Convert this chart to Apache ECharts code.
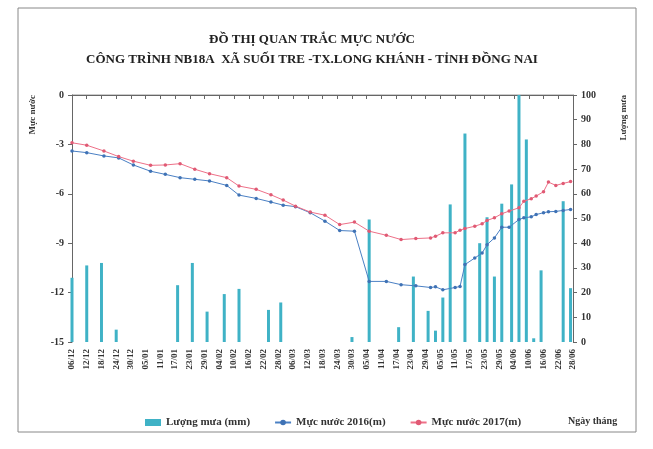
<!DOCTYPE html>
<html>
<head>
<meta charset="utf-8">
<script src="https://cdn.jsdelivr.net/npm/echarts@6/dist/echarts.min.js"></script>
<style>
html,body{margin:0;padding:0;background:#fff;}
#c{width:653px;height:449px;}
</style>
</head>
<body>
<div id="c"></div>
<script>
// X tick labels (every 6 days)
const xTickLabels = ['06/12','12/12','18/12','24/12','30/12','05/01','11/01','17/01','23/01','29/01','04/02','10/02','16/02','22/02','28/02','06/03','12/03','18/03','24/03','30/03','05/04','11/04','17/04','23/04','29/04','05/05','11/05','17/05','23/05','29/05','04/06','10/06','16/06','22/06','28/06'];

// Water level observation dates
const levelDates = ['06/12','12/12','19/12','25/12','31/12','07/01','13/01','19/01','25/01','31/01','07/02','12/02','19/02','25/02','02/03','07/03','13/03','19/03','25/03','31/03','06/04','13/04','19/04','25/04','01/05','03/05','06/05','11/05','13/05','15/05','19/05','22/05','24/05','27/05','30/05','02/06','06/06','08/06','11/06','13/06','16/06','18/06','21/06','24/06','27/06'];
const level2016 = [-3.4,-3.5,-3.7,-3.82,-4.25,-4.63,-4.82,-5.02,-5.12,-5.22,-5.49,-6.08,-6.28,-6.5,-6.69,-6.78,-7.15,-7.66,-8.23,-8.27,-11.32,-11.32,-11.52,-11.59,-11.69,-11.65,-11.83,-11.69,-11.63,-10.3,-9.9,-9.6,-9.09,-8.68,-8.03,-8.03,-7.56,-7.46,-7.4,-7.26,-7.15,-7.09,-7.07,-7.01,-6.95];
const level2017 = [-2.9,-3.05,-3.4,-3.74,-4.02,-4.27,-4.25,-4.17,-4.51,-4.78,-5.02,-5.53,-5.73,-6.06,-6.38,-6.75,-7.11,-7.3,-7.87,-7.72,-8.27,-8.52,-8.78,-8.72,-8.68,-8.58,-8.37,-8.37,-8.21,-8.11,-7.97,-7.82,-7.62,-7.46,-7.21,-7.05,-6.85,-6.45,-6.3,-6.14,-5.87,-5.29,-5.49,-5.37,-5.26];

// Rainfall
const rainDates = ['06/12','12/12','18/12','24/12','18/01','24/01','30/01','06/02','12/02','24/02','01/03','30/03','06/04','18/04','24/04','30/04','03/05','06/05','09/05','15/05','21/05','24/05','27/05','30/05','03/06','06/06','09/06','12/06','15/06','24/06','27/06'];
const rainValues = [26,31,32,5,23,32,12.3,19.4,21.5,13,16,2,49.6,6,26.5,12.6,4.6,18,55.7,84.4,40,50.5,26.5,56,63.8,100,82,1.5,29,57,21.8];

const leftTicks = [0,-3,-6,-9,-12,-15];
const rightTicks = [0,10,20,30,40,50,60,70,80,90,100];

// Daily categories from 06/12/2016 to 28/06/2017
const categories = [];
(function(){
  const d = new Date(2016, 11, 6);
  const end = new Date(2017, 5, 28);
  while (d <= end) {
    const s = String(d.getDate()).padStart(2,'0') + '/' + String(d.getMonth()+1).padStart(2,'0');
    categories.push(s);
    d.setDate(d.getDate()+1);
  }
})();
const tickSet = new Set(xTickLabels);

const pair = (xs, ys) => xs.map((x,i)=>[x, ys[i]]);

const FONT = '"Liberation Serif", "Times New Roman", serif';
const chart = echarts.init(document.getElementById('c'), null, {renderer:'canvas'});
chart.setOption({
  backgroundColor:'#ffffff',
  animation:false,
  title:{
    text:'ĐỒ THỊ QUAN TRẮC MỰC NƯỚC\nCÔNG TRÌNH NB18A  XÃ SUỐI TRE -TX.LONG KHÁNH - TỈNH ĐỒNG NAI',
    left:307, top:25, textAlign:'center',
    textStyle:{fontFamily:FONT, fontWeight:'bold', fontSize:13, color:'#222', lineHeight:20}
  },
  grid:{left:72, right:80, top:95, bottom:107},
  legend:{
    left:140, top:412, itemGap:24, itemWidth:16, itemHeight:7,
    textStyle:{fontFamily:FONT, fontWeight:'bold', fontSize:11, color:'#333'},
    data:[
      {name:'Lượng mưa (mm)', icon:'rect'},
      {name:'Mực nước 2016(m)'},
      {name:'Mực nước 2017(m)'}
    ]
  },
  xAxis:{
    type:'category', data:categories, boundaryGap:false,
    axisLine:{lineStyle:{color:'#666'}},
    axisTick:{interval:(i,v)=>tickSet.has(v), length:4, lineStyle:{color:'#666'}},
    axisLabel:{interval:(i,v)=>tickSet.has(v), rotate:90, fontFamily:FONT, fontWeight:'bold', fontSize:9, color:'#333', margin:7},
    splitLine:{show:false}
  },
  yAxis:[
    {type:'value', min:-15, max:0, interval:3, position:'left',
     axisLine:{show:true, lineStyle:{color:'#666'}},
     axisTick:{show:true, length:4, lineStyle:{color:'#666'}},
     axisLabel:{fontFamily:FONT, fontWeight:'bold', fontSize:10, color:'#333', margin:8},
     splitLine:{show:false}},
    {type:'value', min:0, max:100, interval:10, position:'right',
     axisLine:{show:true, lineStyle:{color:'#666'}},
     axisTick:{show:true, length:4, lineStyle:{color:'#666'}},
     axisLabel:{fontFamily:FONT, fontWeight:'bold', fontSize:10, color:'#333', margin:8},
     splitLine:{show:false}}
  ],
  graphic:[
    {type:'rect', shape:{x:18, y:8, width:618, height:424}, style:{fill:'none', stroke:'#888', lineWidth:1}, silent:true, z:-1},
    {type:'line', shape:{x1:72, y1:95, x2:573, y2:95}, style:{stroke:'#999', lineWidth:1}, silent:true},
    {type:'text', x:33, y:95, rotation:Math.PI/2, style:{text:'Mực nước', fontFamily:FONT, fontWeight:'bold', fontSize:9, fill:'#333', textAlign:'right', textVerticalAlign:'middle'}},
    {type:'text', x:624, y:95, rotation:Math.PI/2, style:{text:'Lượng mưa', fontFamily:FONT, fontWeight:'bold', fontSize:9, fill:'#333', textAlign:'right', textVerticalAlign:'middle'}},
    {type:'text', x:568, y:416, style:{text:'Ngày tháng', fontFamily:FONT, fontWeight:'bold', fontSize:10, fill:'#333'}}
  ],
  series:[
    {name:'Lượng mưa (mm)', type:'bar', yAxisIndex:1, barWidth:3, data:pair(rainDates, rainValues),
     itemStyle:{color:'#3fb2c6'}},
    {name:'Mực nước 2016(m)', type:'line', yAxisIndex:0, data:pair(levelDates, level2016), showAllSymbol:true,
     symbol:'circle', symbolSize:3.5, lineStyle:{color:'#4a80c4', width:1}, itemStyle:{color:'#3f72b5'}},
    {name:'Mực nước 2017(m)', type:'line', yAxisIndex:0, data:pair(levelDates, level2017), showAllSymbol:true,
     symbol:'circle', symbolSize:3.5, lineStyle:{color:'#ee7088', width:1}, itemStyle:{color:'#e05a74'}}
  ]
});
</script>
</body>
</html>
